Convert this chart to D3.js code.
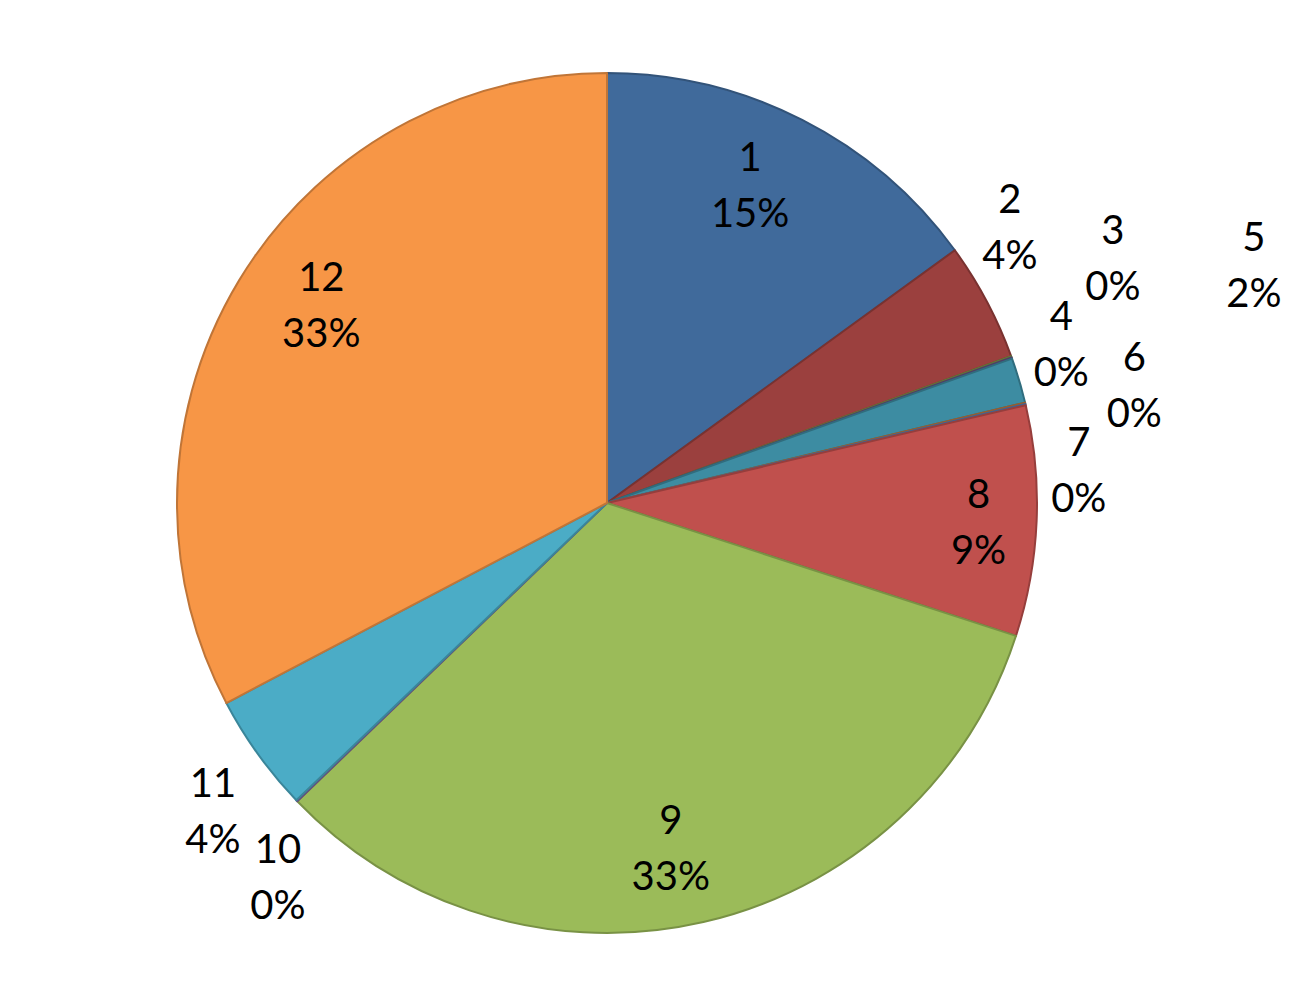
<!DOCTYPE html>
<html>
<head>
<meta charset="utf-8">
<script src="https://cdn.jsdelivr.net/npm/d3@7/dist/d3.min.js"></script>
<style>
  html, body { margin: 0; padding: 0; background: #fff; }
  svg { display: block; }
  text { font-family: Lato, "Open Sans", sans-serif; }
</style>
</head>
<body>
<svg id="chart" width="1310" height="1000"></svg>
<script>
// ---- data ----
const categories = ["1", "2", "3", "4", "5", "6", "7", "8", "9", "10", "11", "12"];
const values = [15.0, 4.45, 0.05, 0.05, 1.7, 0.05, 0.05, 8.65, 32.8, 0.05, 4.45, 32.7];
const colors = ["#406A9B", "#9B403E", "#7D9847", "#674E84", "#3D8CA2", "#C77838",
                "#4F81BD", "#C0504D", "#9BBB59", "#8064A2", "#4BACC6", "#F79646"];

// ---- layout (label anchor: polar angle in degrees, radius factor) ----
const labelPolar = [
  [24.2, 0.812], [55.5, 1.137], [64.1, 1.308], [70.6, 1.12], [69.8, 1.603], [77.3, 1.257],
  [85.9, 1.10], [92.8, 0.865], [169.5, 0.814], [221.4, 1.157], [232.0, 1.163], [304.8, 0.809]
];

const svg = d3.select("#chart");
const cx = 607, cy = 503, R = 430;
const total = d3.sum(values);

const pie = d3.pie().sort(null).value(d => d.v);
const arc = d3.arc().innerRadius(0).outerRadius(R);
const data = categories.map((c, i) => ({ c, v: values[i], i }));
const arcs = pie(data);

const g = svg.append("g").attr("transform", `translate(${cx},${cy})`);

g.selectAll("path.slice")
  .data(arcs)
  .join("path")
  .attr("class", "slice")
  .attr("d", arc)
  .attr("fill", d => colors[d.data.i])
  .attr("stroke", d => d3.color(colors[d.data.i]).darker(0.7))
  .attr("stroke-width", 2)
  .attr("stroke-linejoin", "round");

const labels = g.selectAll("text.lbl")
  .data(arcs)
  .join("text")
  .attr("class", "lbl")
  .attr("text-anchor", "middle")
  .attr("font-size", 40)
  .attr("fill", "#000")
  .attr("transform", d => {
    const [deg, k] = labelPolar[d.data.i];
    const a = deg * Math.PI / 180;
    return `translate(${Math.sin(a) * R * k},${-Math.cos(a) * R * k})`;
  });

labels.append("tspan").attr("x", 0).attr("y", -13.5).text(d => d.data.c);
labels.append("tspan").attr("x", 0).attr("y", 42.5)
  .text(d => Math.round(d.data.v / total * 100) + "%");
</script>
</body>
</html>
